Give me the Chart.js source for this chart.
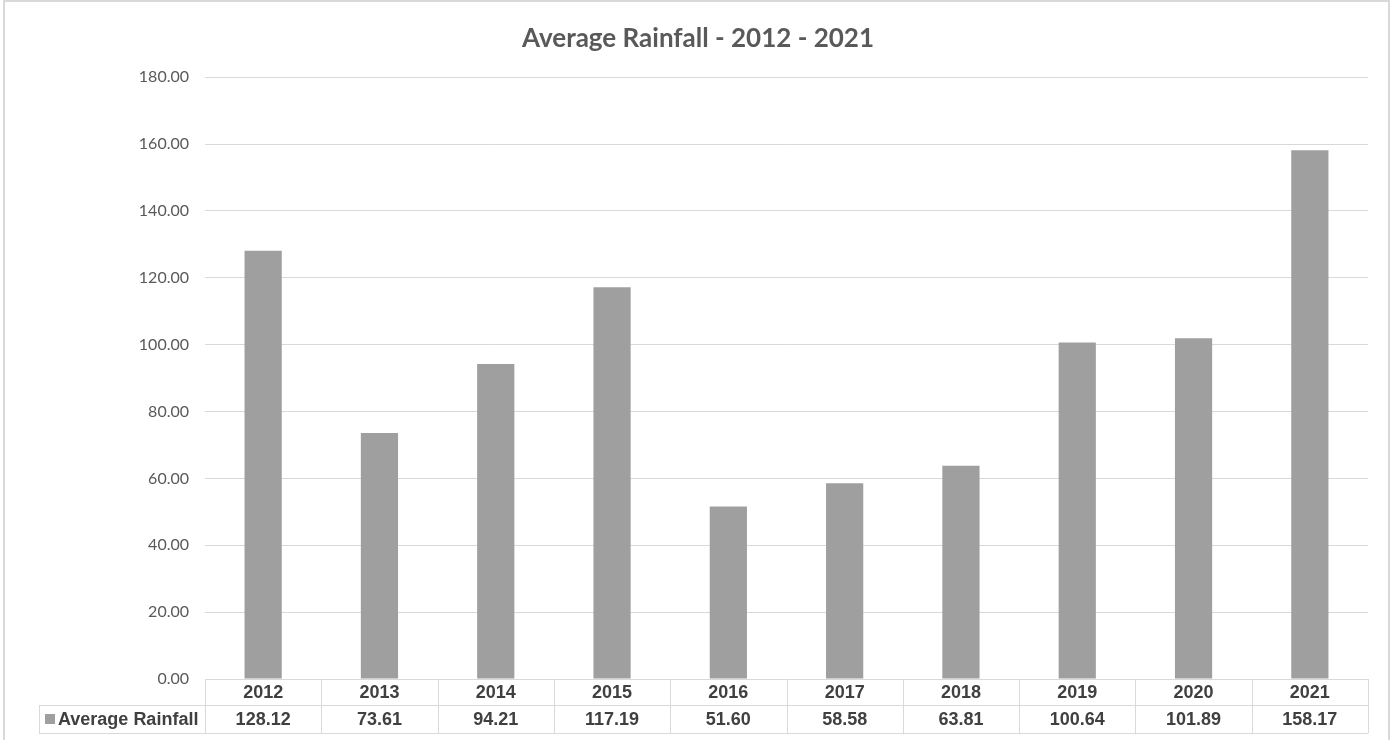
<!DOCTYPE html>
<html lang="en">
  <head>
    <meta charset="UTF-8" />
    <meta name="viewport" content="width=device-width, initial-scale=1.0" />
    <title>Average Rainfall - 2012 - 2021</title>
    <script src="https://cdn.jsdelivr.net/npm/chart.js"></script>
    <style>
      html,
      body {
        margin: 0;
        padding: 0;
        background: #fff;
      }
      .chart-box {
        position: relative;
        width: 1396px;
        height: 740px;
      }
    </style>
  </head>
  <body>
    <div class="chart-box">
      <canvas id="rainChart"></canvas>
    </div>
    <script>
      const years = ["2012", "2013", "2014", "2015", "2016", "2017", "2018", "2019", "2020", "2021"];
      const rainfall = [128.12, 73.61, 94.21, 117.19, 51.6, 58.58, 63.81, 100.64, 101.89, 158.17];
      const seriesName = "Average Rainfall";
      const yMin = 0;
      const yMax = 180;
      const yStep = 20;

      const barColor = "#9f9f9f";
      const lineColor = "#d9d9d9";
      const tableText = "#404040";
      const tableFont = "bold 18px 'Liberation Sans', Arial, sans-serif";

      // outer chart border, like the excel chart frame
      const framePlugin = {
        id: "frame",
        beforeDraw: (chart) => {
          const ctx = chart.ctx;
          ctx.save();
          ctx.strokeStyle = lineColor;
          ctx.lineWidth = 2;
          ctx.strokeRect(4, 1, 1385, chart.height + 10);
          ctx.restore();
        },
      };

      // data table under the plot area
      const dataTablePlugin = {
        id: "dataTable",
        afterDraw: (chart) => {
          const ctx = chart.ctx;
          const x = chart.scales.x;
          const area = chart.chartArea;
          const n = chart.data.labels.length;
          const cell = (area.right - area.left) / n;
          const top = area.bottom;
          const mid = top + 26;
          const bottom = top + 54;
          const labelLeft = 39;

          ctx.save();
          ctx.strokeStyle = lineColor;
          ctx.lineWidth = 1;
          ctx.beginPath();
          ctx.moveTo(area.left, top + 0.5);
          ctx.lineTo(area.right, top + 0.5);
          ctx.moveTo(labelLeft, mid + 0.5);
          ctx.lineTo(area.right, mid + 0.5);
          ctx.moveTo(labelLeft, bottom + 0.5);
          ctx.lineTo(area.right, bottom + 0.5);
          ctx.moveTo(labelLeft + 0.5, mid);
          ctx.lineTo(labelLeft + 0.5, bottom);
          for (let i = 0; i <= n; i++) {
            const px = Math.round(area.left + i * cell) + 0.5;
            ctx.moveTo(px, top);
            ctx.lineTo(px, bottom);
          }
          ctx.stroke();

          ctx.fillStyle = tableText;
          ctx.font = tableFont;
          ctx.textAlign = "center";
          ctx.textBaseline = "middle";
          chart.data.labels.forEach((label, i) => {
            const cx = x.getPixelForValue(i);
            ctx.fillText(label, cx, top + 14);
            ctx.fillText(chart.data.datasets[0].data[i].toFixed(2), cx, mid + 15);
          });

          // legend key + series name
          ctx.fillStyle = barColor;
          ctx.fillRect(45, mid + 9, 10, 10);
          ctx.fillStyle = tableText;
          ctx.textAlign = "left";
          ctx.fillText(chart.data.datasets[0].label, 58, mid + 15);
          ctx.restore();
        },
      };

      const canvas = document.getElementById("rainChart");
      new Chart(canvas, {
        type: "bar",
        data: {
          labels: years,
          datasets: [
            {
              label: seriesName,
              data: rainfall,
              backgroundColor: barColor,
              borderWidth: 0,
              barPercentage: 0.32,
              categoryPercentage: 1,
            },
          ],
        },
        plugins: [framePlugin, dataTablePlugin],
        options: {
          responsive: true,
          maintainAspectRatio: false,
          animation: false,
          layout: {
            padding: { left: 0, right: 0, top: 0, bottom: 7 },
          },
          scales: {
            x: {
              grid: { display: false },
              border: { display: false },
              ticks: { display: false },
              afterFit: (scale) => {
                scale.height = 54;
              },
            },
            y: {
              min: yMin,
              max: yMax,
              border: { display: false },
              grid: { color: lineColor, drawTicks: false },
              ticks: {
                stepSize: yStep,
                padding: 16,
                color: "#595959",
                font: { family: "Lato", size: 16 },
                callback: (v) => v.toFixed(2),
              },
              afterFit: (scale) => {
                scale.width = 205;
              },
            },
            // empty right gutter so the title stays centred on the whole frame
            gutter: {
              position: "right",
              axis: "y",
              type: "linear",
              grid: { display: false },
              border: { display: false },
              ticks: { display: false },
              afterFit: (scale) => {
                scale.width = 28;
              },
            },
          },
          plugins: {
            legend: { display: false },
            title: {
              display: true,
              text: "Average Rainfall - 2012 - 2021",
              color: "#595959",
              font: { family: "Lato", size: 26, weight: "bold" },
              padding: { top: 23, bottom: 23 },
            },
            tooltip: {
              displayColors: false,
              callbacks: {
                label: (context) => seriesName + ": " + context.parsed.y.toFixed(2),
              },
            },
          },
        },
      });
    </script>
  </body>
</html>
